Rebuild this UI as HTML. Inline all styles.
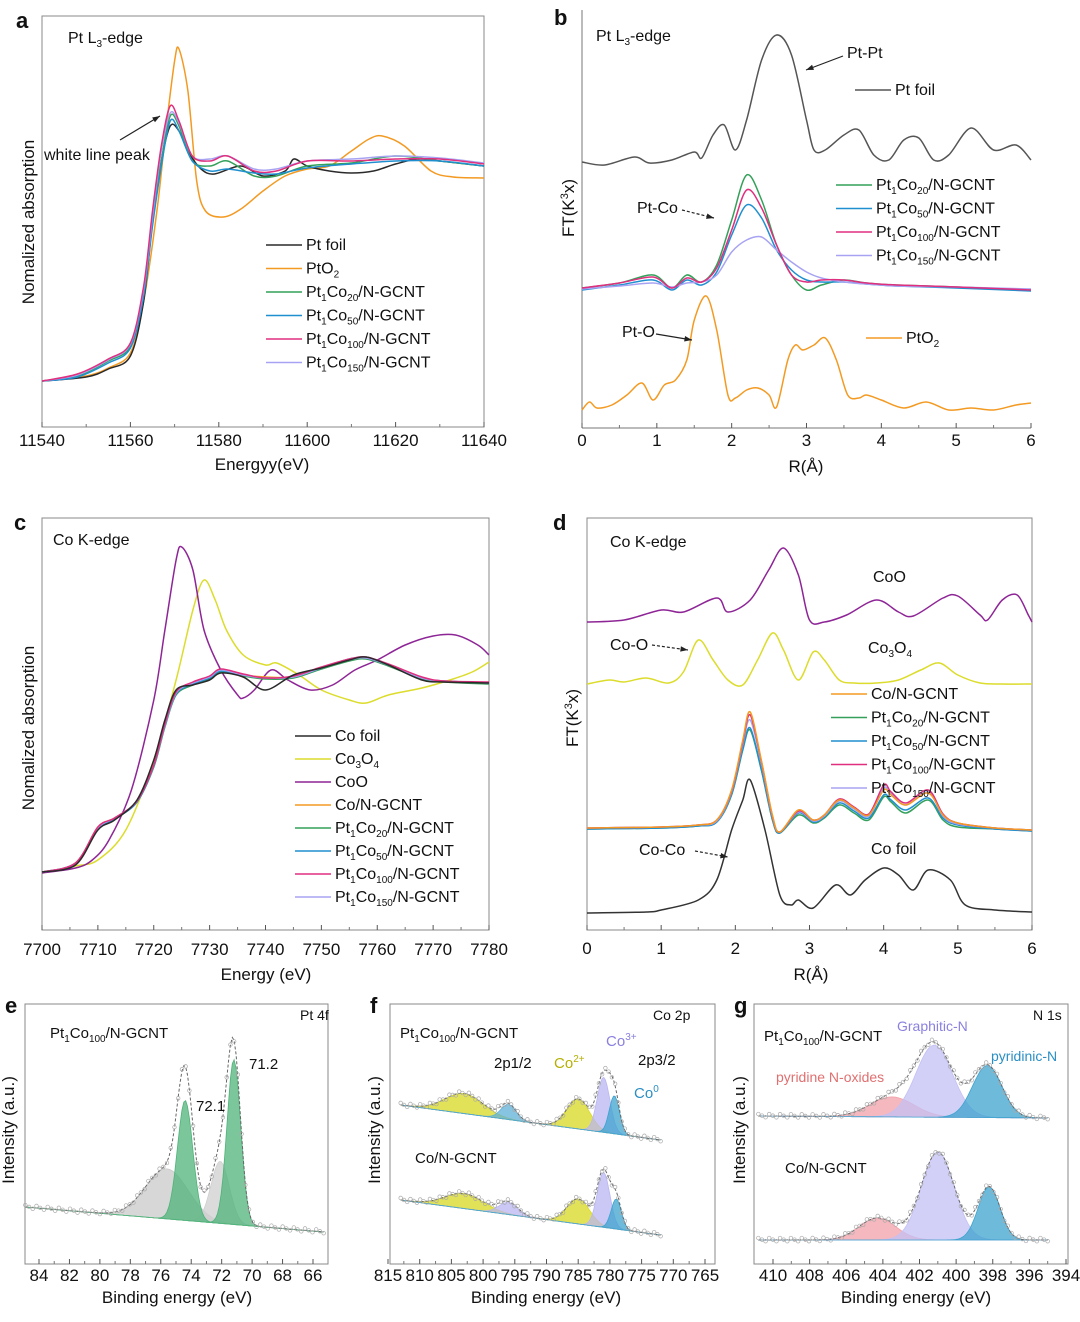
<!DOCTYPE html>
<html><head><meta charset="utf-8"><style>
html,body{margin:0;padding:0;background:#fff}
svg text{font-family:"Liberation Sans",Arial,sans-serif;fill:#111}
</style></head><body>
<svg id="fig" width="1080" height="1317" viewBox="0 0 1080 1317" xmlns="http://www.w3.org/2000/svg"></svg>
<script>
// ---------- Panel a data ----------
const aFoilE=[11540,11550,11555,11560,11563,11565,11567,11569,11571,11573,11576,11579,11585,11590,11595,11597,11600,11605,11610,11615,11620,11625,11630,11640];
const aFoilV=[0,0.04,0.12,0.25,0.8,1.6,2.2,2.55,2.5,2.3,2.12,2.07,2.15,2.05,2.1,2.22,2.15,2.1,2.08,2.1,2.17,2.22,2.2,2.15];
const aPtO2E=[11540,11550,11555,11560,11563,11566,11568,11570,11571,11573,11575,11577,11581,11585,11590,11595,11600,11605,11610,11614,11617,11622,11628,11633,11640];
const aPtO2V=[0,0.05,0.13,0.28,0.8,1.7,2.5,3.2,3.32,2.9,2.0,1.7,1.64,1.72,1.9,2.05,2.12,2.15,2.3,2.42,2.45,2.35,2.1,2.04,2.03];
const aE=[11540,11548,11555,11560,11563,11565,11567,11569,11571,11574,11578,11582,11588,11593,11600,11610,11620,11630,11640];
const aGreen=[0,0.05,0.2,0.35,0.9,1.6,2.2,2.65,2.55,2.2,2.15,2.2,2.05,2.05,2.15,2.18,2.25,2.2,2.15];
const aBlue=[0,0.04,0.18,0.33,0.85,1.55,2.15,2.6,2.5,2.2,2.1,2.12,2.08,2.07,2.13,2.17,2.2,2.2,2.15];
const aMagenta=[0,0.07,0.22,0.38,0.95,1.7,2.35,2.75,2.6,2.25,2.2,2.25,2.1,2.1,2.2,2.2,2.22,2.22,2.17];
const aLavender=[0,0.06,0.21,0.37,0.92,1.65,2.3,2.68,2.58,2.25,2.22,2.25,2.12,2.12,2.2,2.22,2.25,2.23,2.18];
const aTicks=[11540,11560,11580,11600,11620,11640];
// ---------- Panel b data ----------
const bFoilR=[0,0.3,0.7,0.9,1.2,1.5,1.6,1.75,1.9,2.05,2.2,2.4,2.6,2.8,3.0,3.1,3.25,3.5,3.7,3.9,4.1,4.3,4.5,4.7,4.9,5.2,5.5,5.8,6.0];
const bFoilV=[2.68,2.65,2.73,2.67,2.70,2.78,2.72,2.95,3.05,2.80,3.10,3.70,3.95,3.75,3.10,2.80,2.80,2.95,3.00,2.75,2.70,2.90,2.92,2.70,2.75,3.02,2.80,2.85,2.70];
const bR=[0,0.5,0.95,1.2,1.4,1.6,1.8,2.0,2.2,2.4,2.6,2.8,3.0,3.2,3.5,3.8,4.2,5.0,6.0];
const bGreen=[1.42,1.47,1.55,1.42,1.55,1.48,1.65,2.10,2.55,2.30,1.85,1.55,1.40,1.45,1.50,1.47,1.45,1.43,1.40];
const bBlue=[1.40,1.45,1.50,1.40,1.50,1.45,1.58,1.95,2.25,2.12,1.80,1.60,1.50,1.48,1.48,1.46,1.44,1.42,1.39];
const bMagenta=[1.42,1.47,1.53,1.42,1.52,1.48,1.62,2.0,2.40,2.22,1.85,1.55,1.48,1.50,1.50,1.47,1.45,1.43,1.40];
const bLavender=[1.41,1.44,1.47,1.43,1.47,1.48,1.55,1.78,1.90,1.93,1.80,1.68,1.58,1.52,1.48,1.46,1.44,1.43,1.41];
const bPtO2R=[0,0.1,0.2,0.4,0.6,0.8,0.95,1.1,1.25,1.4,1.5,1.66,1.8,1.95,2.05,2.2,2.35,2.5,2.6,2.75,2.85,2.95,3.1,3.25,3.4,3.55,3.7,3.8,4.0,4.3,4.6,4.9,5.2,5.5,5.8,6.0];
const bPtO2V=[0.20,0.28,0.22,0.25,0.35,0.47,0.30,0.45,0.50,0.70,1.10,1.34,1.00,0.35,0.32,0.40,0.42,0.35,0.23,0.70,0.85,0.80,0.85,0.92,0.70,0.35,0.32,0.35,0.30,0.22,0.28,0.20,0.22,0.20,0.25,0.27];
const rTicks=[0,1,2,3,4,5,6];
// ---------- Panel c data ----------
const cFoilE=[7700,7706,7710,7713,7717,7720,7722,7724,7727,7730,7732,7736,7740,7745,7750,7755,7758,7762,7768,7772,7780];
const cFoilV=[0.03,0.10,0.45,0.55,0.75,1.15,1.55,1.85,1.90,1.95,2.02,1.98,1.85,2.00,2.07,2.15,2.18,2.10,1.95,1.93,1.92];
const cCo3O4E=[7700,7706,7710,7715,7720,7724,7727,7729,7731,7733,7736,7740,7742,7746,7750,7755,7758,7762,7768,7773,7777,7780];
const cCo3O4V=[0.02,0.09,0.15,0.45,1.15,1.95,2.65,2.95,2.75,2.45,2.20,2.10,2.12,2.00,1.85,1.75,1.72,1.80,1.87,1.95,2.03,2.13];
const cCoOE=[7700,7706,7709,7712,7716,7720,7722,7724,7725,7727,7729,7732,7735,7736,7738,7741,7744,7748,7752,7756,7760,7765,7770,7774,7778,7780];
const cCoOV=[0.02,0.07,0.15,0.35,0.85,1.75,2.45,3.15,3.28,3.05,2.45,2.05,1.80,1.77,1.85,2.05,1.95,1.85,1.90,2.05,2.15,2.30,2.39,2.40,2.30,2.20];
const cOrange=[0.03,0.12,0.48,0.57,0.74,1.10,1.50,1.82,1.92,1.98,2.05,2.0,1.98,1.98,2.07,2.15,2.17,2.10,1.97,1.93,1.92];
const cGreen=[0.03,0.12,0.47,0.56,0.73,1.08,1.48,1.80,1.90,1.96,2.03,1.99,1.96,1.97,2.06,2.14,2.16,2.09,1.96,1.93,1.91];
const cBlue=[0.03,0.11,0.46,0.56,0.73,1.09,1.49,1.81,1.91,1.97,2.04,2.0,1.97,1.98,2.07,2.16,2.17,2.10,1.97,1.94,1.92];
const cMagenta=[0.03,0.12,0.48,0.57,0.74,1.10,1.51,1.83,1.93,1.99,2.06,2.01,1.97,1.99,2.08,2.16,2.18,2.11,1.98,1.94,1.93];
const cLavender=[0.03,0.12,0.47,0.57,0.74,1.10,1.50,1.82,1.92,1.98,2.05,2.0,1.97,1.98,2.07,2.15,2.17,2.10,1.97,1.94,1.92];
const cTicks=[7700,7710,7720,7730,7740,7750,7760,7770,7780];
// ---------- Panel d data ----------
const dCoOR=[0,0.5,1,1.3,1.75,1.9,2.2,2.45,2.65,2.85,3.0,3.2,3.5,3.9,4.2,4.4,4.8,5.0,5.3,5.4,5.6,5.8,5.95,6.0];
const dCoOV=[3.13,3.15,3.25,3.23,3.37,3.23,3.35,3.65,3.87,3.60,3.15,3.13,3.20,3.35,3.23,3.19,3.37,3.39,3.20,3.15,3.35,3.40,3.20,3.13];
const dCo3O4R=[0,0.3,0.5,0.8,1.1,1.3,1.5,1.7,1.9,2.1,2.3,2.5,2.65,2.85,3.05,3.2,3.4,3.6,3.9,4.2,4.5,4.75,5.0,5.3,5.6,6.0];
const dCo3O4V=[2.51,2.55,2.53,2.57,2.52,2.63,2.95,2.75,2.55,2.50,2.75,3.02,2.85,2.55,2.83,2.75,2.55,2.52,2.52,2.55,2.65,2.72,2.60,2.52,2.51,2.51];
const dR=[0,1,1.5,1.75,1.95,2.1,2.2,2.35,2.5,2.6,2.85,3.05,3.2,3.4,3.6,3.8,4.0,4.1,4.3,4.6,4.8,5.0,5.5,6.0];
const dOrange=[1.07,1.08,1.10,1.15,1.45,1.95,2.23,1.75,1.20,1.03,1.25,1.15,1.20,1.35,1.27,1.20,1.45,1.40,1.30,1.42,1.20,1.12,1.07,1.05];
const dGreen=[1.06,1.07,1.09,1.13,1.40,1.85,2.05,1.65,1.15,1.02,1.20,1.12,1.17,1.30,1.22,1.15,1.38,1.33,1.22,1.35,1.15,1.08,1.06,1.04];
const dBlue=[1.06,1.07,1.09,1.13,1.41,1.86,2.07,1.66,1.16,1.02,1.22,1.13,1.18,1.32,1.24,1.17,1.40,1.35,1.25,1.37,1.17,1.10,1.06,1.04];
const dMagenta=[1.07,1.08,1.10,1.15,1.44,1.93,2.20,1.74,1.19,1.03,1.24,1.15,1.20,1.36,1.28,1.21,1.50,1.43,1.32,1.45,1.21,1.12,1.07,1.05];
const dLavender=[1.07,1.08,1.10,1.14,1.43,1.91,2.15,1.72,1.18,1.03,1.23,1.14,1.19,1.34,1.26,1.19,1.47,1.41,1.30,1.43,1.19,1.11,1.07,1.05];
const dFoilR=[0,0.8,1.0,1.5,1.75,1.95,2.1,2.2,2.4,2.6,2.75,2.85,3.05,3.35,3.55,3.75,4.0,4.2,4.4,4.6,4.9,5.1,5.5,6.0];
const dFoilV=[0.22,0.23,0.25,0.35,0.55,1.05,1.35,1.55,1.05,0.40,0.30,0.35,0.27,0.50,0.40,0.55,0.67,0.60,0.45,0.65,0.55,0.30,0.25,0.23];
// ---------- XPS data (component centres / heights / widths) ----------
const eCenters=[75.6,72.1,74.4,71.2];
const eHeights=[0.5,0.62,1.2,1.65];
const eWidths=[1.4,0.6,0.5,0.45];
const eBg=[0.55,0.30];
const eTicks=[84,82,80,78,76,74,72,70,68,66];
const fUpCenters=[803,796,785,781,779.3];
const fUpHeights=[0.2,0.15,0.3,0.55,0.38];
const fUpWidths=[3,1.2,1.8,1,0.8];
const fUpBg=[1.57,1.22];
const fLoCenters=[803,796,785,781,779];
const fLoHeights=[0.15,0.12,0.25,0.55,0.3];
const fLoWidths=[3,1.5,1.8,1,0.8];
const fLoBg=[0.62,0.27];
const fTicks=[815,810,805,800,795,790,785,780,775,770,765];
const gUpCenters=[403.5,401.2,398.3];
const gUpHeights=[0.2,0.72,0.52];
const gUpWidths=[1.2,1.0,0.8];
const gUpBg=[1.46,1.44];
const gLoCenters=[404.3,401,398.2];
const gLoHeights=[0.22,0.88,0.53];
const gLoWidths=[1.0,0.9,0.6];
const gLoBg=[0.22,0.22];
const gTicks=[410,408,406,404,402,400,398,396,394];

const NS="http://www.w3.org/2000/svg";
const svg=document.getElementById('fig');
function mk(tag,attrs,parent){const e=document.createElementNS(NS,tag);for(const k in attrs)e.setAttribute(k,attrs[k]);(parent||svg).appendChild(e);return e;}
function lin(d0,d1,r0,r1){return v=>r0+(v-d0)*(r1-r0)/(d1-d0);}
function spline(pts){let d='M'+pts[0][0].toFixed(1)+','+pts[0][1].toFixed(1);
 for(let i=0;i<pts.length-1;i++){const p0=pts[Math.max(0,i-1)],p1=pts[i],p2=pts[i+1],p3=pts[Math.min(pts.length-1,i+2)];
 const t=0.16;const c1=[p1[0]+(p2[0]-p0[0])*t,p1[1]+(p2[1]-p0[1])*t];const c2=[p2[0]-(p3[0]-p1[0])*t,p2[1]-(p3[1]-p1[1])*t];
 d+='C'+c1[0].toFixed(1)+','+c1[1].toFixed(1)+' '+c2[0].toFixed(1)+','+c2[1].toFixed(1)+' '+p2[0].toFixed(1)+','+p2[1].toFixed(1);}return d;}
function rich(x,y,str,opt,name){opt=opt||{};
 const t=mk('text',{x:x,y:y,'font-size':opt.size||15,'text-anchor':opt.anchor||'start','font-weight':opt.weight||'normal'});
 if(opt.fill)t.setAttribute('style','fill:'+opt.fill);
 if(opt.rotate)t.setAttribute('transform','rotate('+opt.rotate+' '+x+' '+y+')');
 
 
 const re=/([_^])\{([^}]*)\}/g;let last=0,m;const small=Math.round((opt.size||15)*0.65);
 while((m=re.exec(str))){if(m.index>last){const s=mk('tspan',{},t);s.textContent=str.slice(last,m.index);}
  const s=mk('tspan',{'font-size':small,dy:m[1]==='_'?4:-6},t);s.textContent=m[2];
  const r=mk('tspan',{dy:m[1]==='_'?-4:6},t);r.textContent='\u200b';last=re.lastIndex;}
 if(last<str.length){const s=mk('tspan',{},t);s.textContent=str.slice(last);}
 return t;}
function series(xs,ys,sx,sy,color,name,w){const pts=xs.map((x,i)=>[sx(x),sy(ys[i])]);
 const p=mk('path',{d:spline(pts),fill:'none',stroke:color,'stroke-width':w||1.5});
 
 return p;}
function xAxis(ticks,sx,y,labY,name,fmt){const g=mk('g',{});
 
 
 ticks.forEach(t=>{mk('line',{x1:sx(t),x2:sx(t),y1:y,y2:y-5,stroke:'#555','stroke-width':1},g);
  const tx=mk('text',{x:sx(t),y:labY,'font-size':17,'text-anchor':'middle'},g);tx.textContent=fmt?fmt(t):t;});
 for(let i=0;i<ticks.length-1;i++){const mx=(sx(ticks[i])+sx(ticks[i+1]))/2;mk('line',{x1:mx,x2:mx,y1:y,y2:y-3,stroke:'#777','stroke-width':1},g);}
 return g;}
function frame(x0,y0,x1,y1,name,full){const g=mk('g',{});
 
 
 if(full)mk('rect',{x:x0,y:y0,width:x1-x0,height:y1-y0,fill:'none',stroke:'#888','stroke-width':1},g);
 else{mk('line',{x1:x0,y1:y0,x2:x0,y2:y1,stroke:'#777'},g);mk('line',{x1:x0,y1:y1,x2:x1,y2:y1,stroke:'#777'},g);}return g;}
function legend(x,y,color,text,name,len){mk('line',{x1:x,x2:x+(len||36),y1:y-5,y2:y-5,stroke:color,'stroke-width':1.6});
 rich(x+(len||36)+4,y,text,{size:16},name);}
function arrow(x1,y1,x2,y2,name,dash){const g=mk('g',{});
 
 
 mk('line',{x1:x1,y1:y1,x2:x2,y2:y2,stroke:'#222','stroke-width':1.2,'stroke-dasharray':dash?'3,2':'none'},g);
 const a=Math.atan2(y2-y1,x2-x1),L=8;
 mk('polygon',{points:[x2,y2,x2-L*Math.cos(a-0.35),y2-L*Math.sin(a-0.35),x2-L*Math.cos(a+0.35),y2-L*Math.sin(a+0.35)].join(','),fill:'#222'},g);}

const C={black:'#2a2a2a',orange:'#f39a22',green:'#34a05a',blue:'#1f8fcf',magenta:'#df2f7e',lav:'#a7a3f2',yellow:'#dcdc2c',purple:'#8e2596'};

// ===== Panel a =====
{const sx=lin(11540,11640,42,484),sy=lin(0,1,381,281);
 frame(42,16,484,427,'panel-a-frame',true);
 xAxis(aTicks,sx,427,446,'panel-a-x-axis');
 series(aPtO2E,aPtO2V,sx,sy,C.orange,'pto2-xanes-line');
 series(aFoilE,aFoilV,sx,sy,C.black,'pt-foil-xanes-line');
 series(aE,aGreen,sx,sy,C.green,'pt1co20-xanes-line');
 series(aE,aBlue,sx,sy,C.blue,'pt1co50-xanes-line');
 series(aE,aLavender,sx,sy,C.lav,'pt1co150-xanes-line');
 series(aE,aMagenta,sx,sy,C.magenta,'pt1co100-xanes-line');
 rich(16,28,'a',{size:22,weight:'bold'},'panel-a-letter');
 rich(68,43,'Pt L_{3}-edge',{size:16},'panel-a-title');
 rich(44,160,'white line peak',{size:16},'white-line-peak-label');
 arrow(120,140,160,116,'white-line-arrow');
 rich(262,470,'Energyy(eV)',{size:17,anchor:'middle'},'panel-a-x-title');
 rich(34,222,'Nomalized absorption',{size:17,anchor:'middle',rotate:-90},'panel-a-y-title');
 const L=[[C.black,'Pt foil'],[C.orange,'PtO_{2}'],[C.green,'Pt_{1}Co_{20}/N-GCNT'],[C.blue,'Pt_{1}Co_{50}/N-GCNT'],[C.magenta,'Pt_{1}Co_{100}/N-GCNT'],[C.lav,'Pt_{1}Co_{150}/N-GCNT']];
 L.forEach((l,i)=>legend(266,250+i*23.5,l[0],l[1],'legend-a-'+i));}

// ===== Panel b =====
{const sx=lin(0,6,582,1031),sy=lin(0,1,430,330);
 frame(582,10,1031,428,'panel-b-axes',false);
 xAxis(rTicks,sx,428,446,'panel-b-x-axis');
 series(bFoilR,bFoilV,sx,sy,'#555','pt-foil-ft-line');
 series(bR,bGreen,sx,sy,C.green,'pt1co20-ft-line');
 series(bR,bBlue,sx,sy,C.blue,'pt1co50-ft-line');
 series(bR,bLavender,sx,sy,C.lav,'pt1co150-ft-line');
 series(bR,bMagenta,sx,sy,C.magenta,'pt1co100-ft-line');
 series(bPtO2R,bPtO2V,sx,sy,C.orange,'pto2-ft-line');
 rich(554,25,'b',{size:22,weight:'bold'},'panel-b-letter');
 rich(596,41,'Pt L_{3}-edge',{size:16},'panel-b-title');
 rich(847,58,'Pt-Pt',{size:16},'pt-pt-label');arrow(843,56,806,70,'pt-pt-arrow');
 rich(637,213,'Pt-Co',{size:16},'pt-co-label');arrow(682,210,714,218,'pt-co-arrow',true);
 rich(622,337,'Pt-O',{size:16},'pt-o-label');arrow(656,334,692,340,'pt-o-arrow');
 legend(855,95,'#555','Pt foil','legend-b-foil');
 const L=[[C.green,'Pt_{1}Co_{20}/N-GCNT'],[C.blue,'Pt_{1}Co_{50}/N-GCNT'],[C.magenta,'Pt_{1}Co_{100}/N-GCNT'],[C.lav,'Pt_{1}Co_{150}/N-GCNT']];
 L.forEach((l,i)=>legend(836,190+i*23.5,l[0],l[1],'legend-b-'+i));
 legend(866,343,C.orange,'PtO_{2}','legend-b-pto2');
 rich(806,472,'R(Å)',{size:17,anchor:'middle'},'panel-b-x-title');
 rich(574,208,'FT(K^{3}x)',{size:17,anchor:'middle',rotate:-90},'panel-b-y-title');}

// ===== Panel c =====
{const sx=lin(7700,7780,42,489),sy=lin(0,1,875,775);
 frame(42,518,489,930,'panel-c-frame',true);
 xAxis(cTicks,sx,930,955,'panel-c-x-axis');
 series(cCo3O4E,cCo3O4V,sx,sy,C.yellow,'co3o4-xanes-line');
 series(cCoOE,cCoOV,sx,sy,C.purple,'coo-xanes-line');
 series(cFoilE,cOrange,sx,sy,C.orange,'co-ngcnt-xanes-line');
 series(cFoilE,cGreen,sx,sy,C.green,'pt1co20-co-xanes-line');
 series(cFoilE,cBlue,sx,sy,C.blue,'pt1co50-co-xanes-line');
 series(cFoilE,cLavender,sx,sy,C.lav,'pt1co150-co-xanes-line');
 series(cFoilE,cMagenta,sx,sy,C.magenta,'pt1co100-co-xanes-line');
 series(cFoilE,cFoilV,sx,sy,C.black,'co-foil-xanes-line');
 rich(14,530,'c',{size:22,weight:'bold'},'panel-c-letter');
 rich(53,545,'Co K-edge',{size:16},'panel-c-title');
 rich(266,980,'Energy (eV)',{size:17,anchor:'middle'},'panel-c-x-title');
 rich(34,728,'Nomalized absorption',{size:17,anchor:'middle',rotate:-90},'panel-c-y-title');
 const L=[[C.black,'Co foil'],[C.yellow,'Co_{3}O_{4}'],[C.purple,'CoO'],[C.orange,'Co/N-GCNT'],[C.green,'Pt_{1}Co_{20}/N-GCNT'],[C.blue,'Pt_{1}Co_{50}/N-GCNT'],[C.magenta,'Pt_{1}Co_{100}/N-GCNT'],[C.lav,'Pt_{1}Co_{150}/N-GCNT']];
 L.forEach((l,i)=>legend(295,741+i*23,l[0],l[1],'legend-c-'+i));}

// ===== Panel d =====
{const sx=lin(0,6,587,1032),sy=lin(0,1,935,835);
 frame(587,518,1032,930,'panel-d-frame',true);
 xAxis(rTicks,sx,930,954,'panel-d-x-axis');
 series(dCoOR,dCoOV,sx,sy,C.purple,'coo-ft-line');
 series(dCo3O4R,dCo3O4V,sx,sy,C.yellow,'co3o4-ft-line');
 series(dR,dGreen,sx,sy,C.green,'pt1co20-co-ft-line');
 series(dR,dBlue,sx,sy,C.blue,'pt1co50-co-ft-line');
 series(dR,dLavender,sx,sy,C.lav,'pt1co150-co-ft-line');
 series(dR,dMagenta,sx,sy,C.magenta,'pt1co100-co-ft-line');
 series(dR,dOrange,sx,sy,C.orange,'co-ngcnt-ft-line');
 series(dFoilR,dFoilV,sx,sy,'#333','co-foil-ft-line');
 rich(553,530,'d',{size:22,weight:'bold'},'panel-d-letter');
 rich(610,547,'Co K-edge',{size:16},'panel-d-title');
 rich(873,582,'CoO',{size:16},'coo-label');
 rich(868,653,'Co_{3}O_{4}',{size:16},'co3o4-label');
 rich(610,650,'Co-O',{size:16},'co-o-label');arrow(652,645,688,650,'co-o-arrow',true);
 rich(639,855,'Co-Co',{size:16},'co-co-label');arrow(695,851,728,857,'co-co-arrow',true);
 rich(871,854,'Co foil',{size:16},'co-foil-label');
 const L=[[C.orange,'Co/N-GCNT'],[C.green,'Pt_{1}Co_{20}/N-GCNT'],[C.blue,'Pt_{1}Co_{50}/N-GCNT'],[C.magenta,'Pt_{1}Co_{100}/N-GCNT'],[C.lav,'Pt_{1}Co_{150}/N-GCNT']];
 L.forEach((l,i)=>legend(831,699+i*23.5,l[0],l[1],'legend-d-'+i));
 rich(811,980,'R(Å)',{size:17,anchor:'middle'},'panel-d-x-title');
 rich(578,718,'FT(K^{3}x)',{size:17,anchor:'middle',rotate:-90},'panel-d-y-title');}

// ===== XPS helper =====
function xps(dom,sx,sy,centers,heights,widths,bg,colors,name){
 const [a,b]=dom,N=160;const xs=[];for(let i=0;i<=N;i++)xs.push(a+(b-a)*i/N);
 const bgv=x=>bg[0]+(bg[1]-bg[0])*(x-a)/(b-a);
 const gs=(x,k)=>heights[k]*Math.exp(-((x-centers[k])**2)/(2*widths[k]**2));
 centers.forEach((c,k)=>{let d='';xs.forEach((x,i)=>{d+=(i?'L':'M')+sx(x).toFixed(1)+','+sy(bgv(x)+gs(x,k)).toFixed(1);});
  for(let i=N;i>=0;i--)d+='L'+sx(xs[i]).toFixed(1)+','+sy(bgv(xs[i])).toFixed(1);
  const p=mk('path',{d:d+'Z',fill:colors[k],'fill-opacity':0.75,stroke:colors[k],'stroke-width':0.8});
  
  });
 let d='';xs.forEach((x,i)=>{let v=bgv(x);centers.forEach((c,k)=>v+=gs(x,k));d+=(i?'L':'M')+sx(x).toFixed(1)+','+sy(v).toFixed(1);});
 const env=mk('path',{d:d,fill:'none',stroke:'#666','stroke-width':1,'stroke-dasharray':'3,2'});
 
 
 const g=mk('g',{});
 
 
 xs.forEach((x,i)=>{if(i%2)return;let v=bgv(x);centers.forEach((c,k)=>v+=gs(x,k));mk('circle',{cx:sx(x),cy:sy(v)+((i%6)-2.5)*0.8,r:1.8,fill:'none',stroke:'#aaa','stroke-width':0.7},g);});}

// ===== Panel e =====
{const sx=lin(84,66,39,313),sy=lin(0,1,1262,1162);
 frame(25,1004,328,1264,'panel-e-frame',true);
 xAxis(eTicks,sx,1264,1281,'panel-e-x-axis');
 xps([84.9,65.3],sx,sy,eCenters,eHeights,eWidths,eBg,['#c9c9c9','#cfcfcf','#4fb37a','#4fb37a'],'pt4f');
 rich(5,1013,'e',{size:22,weight:'bold'},'panel-e-letter');
 rich(300,1020,'Pt 4f',{size:14},'pt4f-label');
 rich(50,1038,'Pt_{1}Co_{100}/N-GCNT',{size:15},'panel-e-sample');
 rich(249,1069,'71.2',{size:15},'peak-71-2-label');
 rich(196,1111,'72.1',{size:15},'peak-72-1-label');
 rich(177,1303,'Binding energy (eV)',{size:17,anchor:'middle'},'panel-e-x-title');
 rich(14,1130,'Intensity (a.u.)',{size:17,anchor:'middle',rotate:-90},'panel-e-y-title');}

// ===== Panel f =====
{const sx=lin(815,765,388,705),sy=lin(0,1,1262,1162);
 frame(390,1004,715,1264,'panel-f-frame',true);
 xAxis(fTicks,sx,1264,1281,'panel-f-x-axis');
 const cols=['#d8d820','#5fb0d8','#d8d820','#b9b6f2','#3ea3cf'];
 xps([813,772],sx,sy,fUpCenters,fUpHeights,fUpWidths,fUpBg,cols,'co2p-pt1co100');
 xps([813,772],sx,sy,fLoCenters,fLoHeights,fLoWidths,fLoBg,['#d8d820','#b9b6f2','#d8d820','#b9b6f2','#3ea3cf'],'co2p-co-ngcnt');
 rich(370,1013,'f',{size:22,weight:'bold'},'panel-f-letter');
 rich(653,1020,'Co 2p',{size:14},'co2p-label');
 rich(400,1038,'Pt_{1}Co_{100}/N-GCNT',{size:15},'panel-f-sample-1');
 rich(415,1163,'Co/N-GCNT',{size:15},'panel-f-sample-2');
 rich(494,1068,'2p1/2',{size:15},'2p12-label');
 rich(638,1065,'2p3/2',{size:15},'2p32-label');
 rich(554,1068,'Co^{2+}',{size:15,fill:'#b5b000'},'co2plus-label');
 rich(606,1046,'Co^{3+}',{size:15,fill:'#8a80e0'},'co3plus-label');
 rich(634,1098,'Co^{0}',{size:15,fill:'#2a8fc4'},'co0-label');
 rich(546,1303,'Binding energy (eV)',{size:17,anchor:'middle'},'panel-f-x-title');
 rich(380,1130,'Intensity (a.u.)',{size:17,anchor:'middle',rotate:-90},'panel-f-y-title');}

// ===== Panel g =====
{const sx=lin(410,394,773,1066),sy=lin(0,1,1262,1162);
 frame(754,1004,1068,1264,'panel-g-frame',true);
 xAxis(gTicks,sx,1264,1281,'panel-g-x-axis');
 xps([410.8,395],sx,sy,gUpCenters,gUpHeights,gUpWidths,gUpBg,['#f2a0a8','#c3c0f4','#3ea3cf'],'n1s-pt1co100');
 xps([410.8,395],sx,sy,gLoCenters,gLoHeights,gLoWidths,gLoBg,['#f2a0a8','#c3c0f4','#3ea3cf'],'n1s-co-ngcnt');
 rich(734,1013,'g',{size:22,weight:'bold'},'panel-g-letter');
 rich(1033,1020,'N 1s',{size:14},'n1s-label');
 rich(764,1041,'Pt_{1}Co_{100}/N-GCNT',{size:15},'panel-g-sample-1');
 rich(785,1173,'Co/N-GCNT',{size:15},'panel-g-sample-2');
 rich(897,1031,'Graphitic-N',{size:14,fill:'#8a80e0'},'graphitic-n-label');
 rich(991,1061,'pyridinic-N',{size:14,fill:'#2a8fc4'},'pyridinic-n-label');
 rich(776,1082,'pyridine N-oxides',{size:14,fill:'#e07070'},'pyridine-n-oxides-label');
 rich(916,1303,'Binding energy (eV)',{size:17,anchor:'middle'},'panel-g-x-title');
 rich(745,1130,'Intensity (a.u.)',{size:17,anchor:'middle',rotate:-90},'panel-g-y-title');}
</script>
</body></html>
